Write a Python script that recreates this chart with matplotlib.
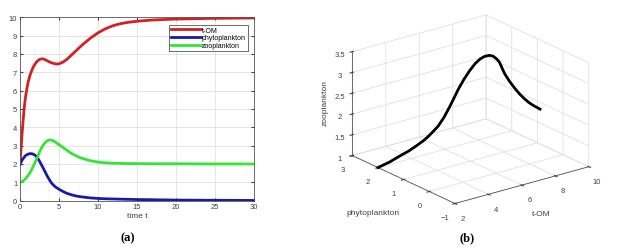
import numpy as np
import matplotlib
matplotlib.use('Agg')
import matplotlib.pyplot as plt

# values
t = [0, 0.125, 0.25, 0.375, 0.5, 0.625, 0.75, 1.0, 1.25, 1.5, 1.75, 2.0, 2.25, 2.5,
     2.75, 3.0, 3.25, 3.5, 3.75, 4.0, 4.25, 4.5, 4.75, 5.0, 5.5, 6.0, 6.5, 7, 7.5, 8,
     9, 10, 11, 12, 13, 14, 15, 17, 20, 25, 30]
tom = [2.0, 2.85, 3.6, 4.3, 4.9, 5.4, 5.8, 6.4, 6.8, 7.1, 7.33, 7.5, 7.62, 7.7,
       7.73, 7.72, 7.68, 7.62, 7.57, 7.52, 7.49, 7.46, 7.45, 7.46, 7.55, 7.7, 7.9, 8.1,
       8.3, 8.5, 8.85, 9.15, 9.38, 9.55, 9.66, 9.73, 9.78, 9.85, 9.9, 9.94, 9.96]
phyto = [2.0, 2.1, 2.2, 2.28, 2.35, 2.42, 2.47, 2.53, 2.56, 2.56, 2.52, 2.45, 2.32, 2.15,
         1.95, 1.75, 1.54, 1.33, 1.15, 0.98, 0.86, 0.76, 0.69, 0.62, 0.5, 0.4, 0.33, 0.27,
         0.23, 0.2, 0.15, 0.12, 0.1, 0.09, 0.08, 0.07, 0.06, 0.05, 0.03, 0.02, 0.01]
zoo = [1.0, 1.01, 1.04, 1.07, 1.12, 1.16, 1.22, 1.35, 1.51, 1.7, 1.92, 2.15, 2.4, 2.65,
       2.88, 3.05, 3.18, 3.27, 3.31, 3.3, 3.27, 3.2, 3.13, 3.05, 2.9, 2.75, 2.6, 2.48,
       2.38, 2.3, 2.18, 2.1, 2.06, 2.04, 2.03, 2.02, 2.02, 2.01, 2.01, 2.0, 2.0]
t_end_3d = 9  # the phase portrait stops around here

plt.rcParams['font.family'] = ['Liberation Sans', 'DejaVu Sans']
tick_c = '#404040'

fig = plt.figure(figsize=(6.27, 2.53), dpi=100)

# (a) time series
ax = fig.add_axes([0.032, 0.203, 0.373, 0.725])
ax.plot(t, tom, color='#d42020', lw=2, label='t-OM')
ax.plot(t, phyto, color='#1a1aa8', lw=2, label='phytoplankton')
ax.plot(t, zoo, color='#33e633', lw=2, label='zooplankton')
ax.set_xlim(0, 30)
ax.set_ylim(0, 10)
ax.set_xticks(range(0, 31, 5))
ax.set_yticks(range(0, 11))
ax.grid(True, color='#e0e0e0', lw=0.6)
ax.tick_params(direction='in', length=2, labelsize=5.5, colors=tick_c, pad=2,
               top=True, right=True)
for s in ax.spines.values():
    s.set_color('#555555')
    s.set_linewidth(0.6)
ax.set_xlabel('time t', fontsize=6, color=tick_c, labelpad=1)
leg = ax.legend(loc='upper right', fontsize=5, handlelength=4.2, handletextpad=0.2,
                borderpad=0.3, labelspacing=0.1, fancybox=False, framealpha=1,
                bbox_to_anchor=(0.975, 0.96), borderaxespad=0)
leg.get_frame().set_edgecolor('#555555')
leg.get_frame().set_linewidth(0.6)

# (b) phase portrait
n3 = t.index(t_end_3d) + 1
ax3 = fig.add_axes([0.495, 0.051, 0.50, 1.0], projection='3d', proj_type='ortho')
ax3.plot(tom[:n3], phyto[:n3], zoo[:n3], color='black', lw=2)
ax3.set_xlim(2, 10)
ax3.set_ylim(-1, 3)
ax3.set_zlim(1, 3.5)
ax3.set_xticks([2, 4, 6, 8, 10])
ax3.set_yticks([-1, 0, 1, 2, 3])
ax3.set_zticks([1, 1.5, 2, 2.5, 3, 3.5])
ax3.set_zticklabels(['1', '1.5', '2', '2.5', '3', '3.5'])
ax3.view_init(elev=21, azim=-127.5)
ax3.set_box_aspect((1, 1, 0.66), zoom=1.01)
for a in (ax3.xaxis, ax3.yaxis, ax3.zaxis):
    a.set_pane_color((1, 1, 1, 0))
    a.line.set_color('#555555')
    a.line.set_linewidth(0.6)
    a._axinfo['grid']['color'] = '#e0e0e0'
    a._axinfo['grid']['linewidth'] = 0.6
    a.set_rotate_label(False)
ax3.tick_params(labelsize=5.5, colors=tick_c, pad=-1)
ax3.zaxis.set_tick_params(pad=-3)
ax3.set_xlabel('t-OM', fontsize=6, color=tick_c, labelpad=-3)
ax3.set_ylabel('phytoplankton', fontsize=6, color=tick_c, labelpad=1)
ax3.set_zlabel('zooplankton', fontsize=6, color=tick_c, labelpad=-10, rotation=90)

fig.text(0.203, 0.045, '(a)', fontsize=9, fontweight='bold', family='Liberation Serif',
         ha='center')
fig.text(0.745, 0.045, '(b)', fontsize=9, fontweight='bold', family='Liberation Serif',
         ha='center')

fig.savefig('out.png', dpi=100)
